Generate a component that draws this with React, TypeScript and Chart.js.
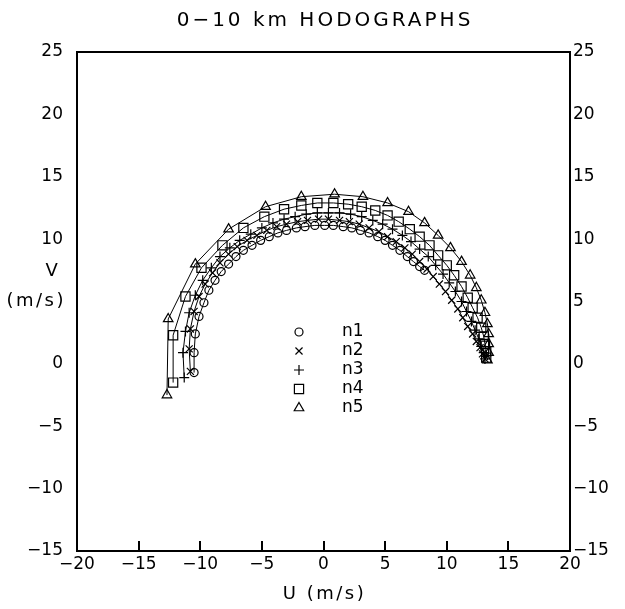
import React, { useEffect, useRef } from 'react';
import { Chart, registerables } from 'chart.js';
import { drawPoint } from 'chart.js/helpers';

Chart.register(...registerables);

// Hodograph points (u, v) in m/s, surface to 10 km, one list per run.
const n1: [number, number][] = [
  [-10.5, -0.7], [-10.5, 0.9], [-10.4, 2.4], [-10.1, 3.8], [-9.7, 4.9], [-9.3, 5.9],
  [-8.8, 6.7], [-8.3, 7.4], [-7.7, 8.0], [-7.1, 8.6], [-6.5, 9.1], [-5.8, 9.5],
  [-5.1, 9.9], [-4.4, 10.2], [-3.7, 10.5], [-3.0, 10.7], [-2.2, 10.9], [-1.5, 11.0],
  [-0.7, 11.1], [0.1, 11.1], [0.8, 11.1], [1.6, 11.0], [2.3, 10.9], [3.0, 10.7],
  [3.7, 10.5], [4.4, 10.2], [5.0, 9.9], [5.6, 9.5], [6.2, 9.1], [6.8, 8.6],
  [7.3, 8.2], [7.8, 7.8], [8.2, 7.5],
];

const n2: [number, number][] = [
  [-10.8, -0.6], [-10.9, 1.2], [-10.8, 2.8], [-10.5, 4.2], [-10.1, 5.4], [-9.6, 6.4],
  [-9.0, 7.3], [-8.4, 8.1], [-7.7, 8.8], [-7.0, 9.4], [-6.2, 9.9], [-5.4, 10.3],
  [-4.6, 10.7], [-3.8, 11.0], [-3.0, 11.2], [-2.1, 11.4], [-1.3, 11.5], [-0.4, 11.6],
  [0.4, 11.6], [1.3, 11.5], [2.1, 11.4], [2.9, 11.2], [3.7, 10.9], [4.5, 10.6],
  [5.2, 10.2], [5.9, 9.8], [6.6, 9.3], [7.2, 8.8], [7.8, 8.2], [8.4, 7.6],
  [8.9, 7.0], [9.4, 6.4], [9.9, 5.8], [10.4, 5.1], [10.9, 4.4], [11.3, 3.7],
  [11.7, 3.0], [12.1, 2.4], [12.4, 1.8], [12.7, 1.3], [12.9, 0.8], [13.1, 0.4],
];

const n3: [number, number][] = [
  [-11.3, -1.1], [-11.4, 0.9], [-11.2, 2.6], [-10.9, 4.1], [-10.4, 5.5], [-9.8, 6.7],
  [-9.1, 7.7], [-8.4, 8.6], [-7.6, 9.3], [-6.8, 9.9], [-5.9, 10.4], [-5.0, 10.9],
  [-4.1, 11.3], [-3.2, 11.6], [-2.3, 11.8], [-1.4, 12.0], [-0.5, 12.1], [0.4, 12.1],
  [1.3, 12.1], [2.2, 12.0], [3.1, 11.8], [4.0, 11.5], [4.8, 11.2], [5.6, 10.8],
  [6.4, 10.3], [7.1, 9.8], [7.8, 9.2], [8.5, 8.6], [9.1, 7.9], [9.7, 7.2],
  [10.2, 6.5], [10.7, 5.8], [11.2, 5.0], [11.6, 4.2], [12.0, 3.4], [12.3, 2.7],
  [12.6, 2.0], [12.8, 1.4], [13.0, 0.9], [13.1, 0.4],
];

const n4: [number, number][] = [
  [-12.2, -1.5], [-12.2, 2.3], [-11.2, 5.4], [-9.9, 7.7], [-8.2, 9.5], [-6.5, 10.9],
  [-4.8, 11.8], [-3.2, 12.4], [-1.8, 12.7], [-0.5, 12.9], [0.8, 12.9], [2.0, 12.8],
  [3.1, 12.6], [4.2, 12.3], [5.2, 11.9], [6.1, 11.4], [7.0, 10.8], [7.8, 10.2],
  [8.6, 9.5], [9.3, 8.7], [10.0, 7.9], [10.6, 7.1], [11.2, 6.2], [11.7, 5.3],
  [12.1, 4.5], [12.5, 3.7], [12.8, 2.9], [13.0, 2.2], [13.1, 1.6], [13.2, 1.0],
  [13.2, 0.5],
];

const n5: [number, number][] = [
  [-12.7, -2.5], [-12.6, 3.6], [-10.4, 8.0], [-7.7, 10.8], [-4.7, 12.6], [-1.8, 13.4],
  [0.9, 13.6], [3.2, 13.4], [5.2, 12.9], [6.9, 12.2], [8.2, 11.3], [9.3, 10.3],
  [10.3, 9.3], [11.2, 8.2], [11.9, 7.1], [12.4, 6.1], [12.8, 5.1], [13.1, 4.1],
  [13.3, 3.2], [13.4, 2.4], [13.4, 1.6], [13.4, 0.9], [13.3, 0.3],
];

const seriesNames = ['n1', 'n2', 'n3', 'n4', 'n5'];
const seriesPoints = [n1, n2, n3, n4, n5];
const markerStyles = ['circle', 'crossRot', 'cross', 'rect', 'triangle'];
const markerRadii = [4, 5, 5, 6.5, 5.5];

const TITLE = '0\u221210 km HODOGRAPHS';
const X_TITLE = 'U (m/s)';
const Y_TITLE = ['V', '(m/s)'];
const U_RANGE = [-20, 20];
const V_RANGE = [-15, 25];
const TICK_STEP = 5;

const FONT = '"DejaVu Sans", sans-serif';
const minus = (v: number | string) => String(v).replace('-', '\u2212');

const frameAndLabels = {
  id: 'frameAndLabels',
  afterDatasetsDraw(chart: any) {
    const { ctx, chartArea: a, scales } = chart;
    const xs = scales.x;
    const ys = scales.y;
    ctx.save();
    ctx.strokeStyle = '#000';
    ctx.fillStyle = '#000';

    // plot frame
    ctx.lineWidth = 2;
    ctx.strokeRect(a.left, a.top, a.right - a.left, a.bottom - a.top);

    // inward tick marks along the bottom edge
    xs.ticks.forEach((t: any) => {
      if (t.value <= xs.min || t.value >= xs.max) return;
      const p = Math.round(xs.getPixelForValue(t.value));
      ctx.beginPath();
      ctx.moveTo(p, a.bottom);
      ctx.lineTo(p, a.bottom - 10);
      ctx.stroke();
    });

    const cx = (a.left + a.right) / 2;
    ctx.textBaseline = 'middle';

    // title
    ctx.textAlign = 'center';
    ctx.font = `20px ${FONT}`;
    ctx.letterSpacing = '3px';
    ctx.fillText(TITLE, cx + 1.5, 21);

    // axis titles
    ctx.font = `18px ${FONT}`;
    ctx.letterSpacing = '2.5px';
    ctx.fillText(X_TITLE, cx + 1, a.bottom + 43);
    ctx.fillText(Y_TITLE[0], a.left - 24, ys.getPixelForValue(7.4));
    ctx.textAlign = 'right';
    ctx.fillText(Y_TITLE[1], a.left - 11, ys.getPixelForValue(5));
    ctx.letterSpacing = '0px';

    // legend
    const lx = a.left + 222;
    const tx = a.left + 265;
    ctx.font = `17px ${FONT}`;
    chart.data.datasets.forEach((ds: any, i: number) => {
      const y = a.top + 280 + i * 19;
      ctx.lineWidth = 1.2;
      ctx.fillStyle = 'rgba(0,0,0,0)';
      drawPoint(ctx, { pointStyle: ds.pointStyle, radius: ds.pointRadius, borderWidth: 1.2 }, lx, y);
      ctx.fillStyle = '#000';
      ctx.textAlign = 'left';
      ctx.fillText(ds.label, tx, y);
    });

    ctx.restore();
  },
};

export default function App() {
  const canvasRef = useRef<HTMLCanvasElement | null>(null);

  useEffect(() => {
    if (!canvasRef.current) return;
    const tickFont = { family: FONT, size: 17 };
    const hiddenGrid = { display: false, drawTicks: false };

    const chart = new Chart(canvasRef.current, {
      type: 'scatter',
      data: {
        datasets: seriesPoints.map((pts, i) => ({
          label: seriesNames[i],
          data: pts.map(([u, v]) => ({ x: u, y: v })),
          showLine: true,
          borderColor: '#000',
          borderWidth: 1,
          tension: 0,
          fill: false,
          pointStyle: markerStyles[i],
          pointRadius: markerRadii[i],
          pointBorderWidth: 1.2,
          pointBorderColor: '#000',
          pointBackgroundColor: 'rgba(0,0,0,0)',
        })),
      },
      options: {
        responsive: false,
        animation: false,
        devicePixelRatio: 1,
        layout: { padding: { top: 52, left: 0, right: 0, bottom: 0 } },
        plugins: {
          legend: { display: false },
          title: { display: false },
          tooltip: { enabled: false },
        },
        events: [],
        scales: {
          x: {
            type: 'linear',
            position: 'bottom',
            min: U_RANGE[0],
            max: U_RANGE[1],
            grid: hiddenGrid,
            border: { display: false },
            ticks: {
              stepSize: TICK_STEP,
              autoSkip: false,
              maxRotation: 0,
              padding: 3,
              color: '#000',
              font: tickFont,
              callback: (v: any) => minus(v),
            },
            afterFit: (s: any) => { s.height = 58; },
          },
          y: {
            type: 'linear',
            position: 'left',
            min: V_RANGE[0],
            max: V_RANGE[1],
            grid: hiddenGrid,
            border: { display: false },
            ticks: {
              stepSize: TICK_STEP,
              padding: 14,
              color: '#000',
              font: tickFont,
              callback: (v: any) => (v === 5 ? '' : minus(v)),
            },
            afterFit: (s: any) => { s.width = 77; },
          },
          y2: {
            type: 'linear',
            position: 'right',
            display: true,
            min: V_RANGE[0],
            max: V_RANGE[1],
            grid: hiddenGrid,
            border: { display: false },
            ticks: {
              stepSize: TICK_STEP,
              padding: 3,
              color: '#000',
              font: tickFont,
              callback: (v: any) => minus(v),
            },
            afterFit: (s: any) => { s.width = 55; },
          },
        },
      },
      plugins: [frameAndLabels],
    });

    return () => chart.destroy();
  }, []);

  return (
    <div style={{ position: 'absolute', left: 0, top: 0, width: 625, height: 609, background: '#fff' }}>
      <canvas ref={canvasRef} width={625} height={609} style={{ display: 'block' }} />
    </div>
  );
}
